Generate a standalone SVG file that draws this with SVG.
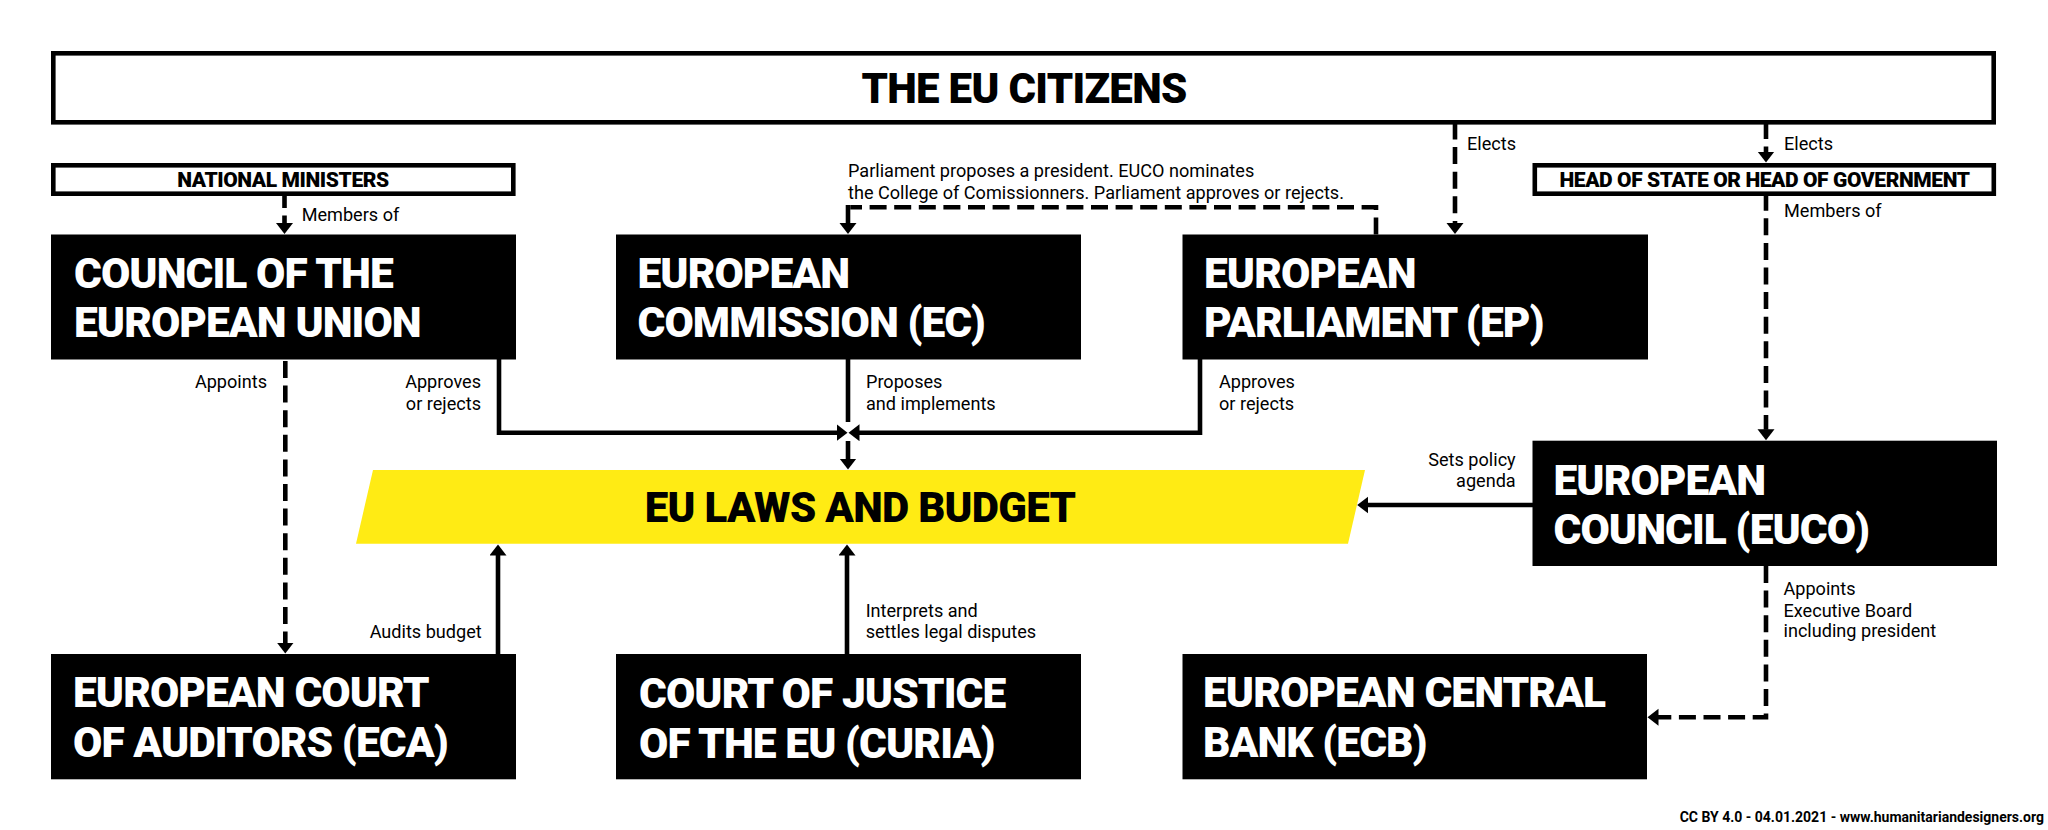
<svg xmlns="http://www.w3.org/2000/svg" width="2048" height="830" viewBox="0 0 2048 830">
<style>
text{font-family:Roboto,"Liberation Sans",sans-serif}
.t{font-size:42.5px;font-weight:900;fill:#fff;letter-spacing:-.95px}
.h{font-size:42px;font-weight:900;fill:#000;letter-spacing:-.7px}
.s{font-size:21px;font-weight:900;fill:#000;text-anchor:middle;letter-spacing:-.4px}
.l{font-size:18.1px;font-weight:400;fill:#000}
.r{text-anchor:end}
.f{font-size:14px;font-weight:700;fill:#000}
.b{fill:#000}
.w{fill:#fff;stroke:#000;stroke-width:4.6}
.c{fill:none;stroke:#000;stroke-width:4.6}
.d{stroke-dasharray:17 7.6}
</style>
<defs>
<marker id="a" markerUnits="userSpaceOnUse" markerWidth="12" markerHeight="18" refX="0.5" refY="8.5" orient="auto"><path d="M0,0L11,8.5L0,17z"/></marker>
</defs>
<rect width="2048" height="830" fill="#fff"/>
<g id="connectors">
<path class="c d" d="M284.5,191V223.5" marker-end="url(#a)"/>
<path class="c d" d="M285.3,361V643" marker-end="url(#a)"/>
<path class="c" d="M498,654V555" marker-end="url(#a)"/>
<path class="c" d="M847,654V555" marker-end="url(#a)"/>
<path class="c" d="M848,359V422"/>
<path class="c" d="M499,359V432.7H837" marker-end="url(#a)"/>
<path class="c" d="M1200,359V432.7H859" marker-end="url(#a)"/>
<path class="c" d="M848,441V459" marker-end="url(#a)"/>
<path class="c d" d="M1376,234.5V207.3H850.3"/>
<path class="c" d="M848,205V223.5" marker-end="url(#a)"/>
<path class="c d" d="M1455,122.5V223.5" marker-end="url(#a)"/>
<path class="c d" d="M1766,122V152" marker-end="url(#a)"/>
<path class="c d" d="M1766,193.7V429.7" marker-end="url(#a)"/>
<path class="c" d="M1533,505H1367.7" marker-end="url(#a)"/>
<path class="c d" d="M1766,566V717.3H1658" marker-end="url(#a)"/>
</g>
<g id="citizens"><rect class="w" x="53.3" y="53.3" width="1940.4" height="69"/><text class="h" x="1024" y="102.7" text-anchor="middle">THE EU CITIZENS</text></g>
<g id="ministers"><rect class="w" x="53.3" y="165.3" width="460" height="28.4"/><text class="s" x="283" y="186.7">NATIONAL MINISTERS</text></g>
<g id="heads"><rect class="w" x="1534.8" y="165.3" width="459" height="28.4"/><text class="s" x="1764.5" y="187">HEAD OF STATE OR HEAD OF GOVERNMENT</text></g>
<g id="council"><rect class="b" x="51" y="234.5" width="465" height="125"/><text class="t" x="74" y="288">COUNCIL OF THE</text><text class="t" x="74" y="337">EUROPEAN UNION</text></g>
<g id="commission"><rect class="b" x="616" y="234.5" width="465" height="125"/><text class="t" x="637.5" y="288">EUROPEAN</text><text class="t" x="637.5" y="337">COMMISSION (EC)</text></g>
<g id="parliament"><rect class="b" x="1182.5" y="234.5" width="465.5" height="125"/><text class="t" x="1204" y="288">EUROPEAN</text><text class="t" x="1204" y="337">PARLIAMENT (EP)</text></g>
<g id="euco"><rect class="b" x="1532.5" y="440.7" width="464.5" height="125.3"/><text class="t" x="1553.5" y="495">EUROPEAN</text><text class="t" x="1553.5" y="543.5">COUNCIL (EUCO)</text></g>
<g id="laws"><path d="M373,470H1365L1348,543.7H356z" fill="#ffeb14"/><text class="h" x="860" y="522" text-anchor="middle">EU LAWS AND BUDGET</text></g>
<g id="eca"><rect class="b" x="51" y="654" width="465" height="125.3"/><text class="t" x="73" y="707">EUROPEAN COURT</text><text class="t" x="73" y="756.7">OF AUDITORS (ECA)</text></g>
<g id="curia"><rect class="b" x="616" y="654" width="465" height="125.3"/><text class="t" x="639" y="708">COURT OF JUSTICE</text><text class="t" x="639" y="757.7">OF THE EU (CURIA)</text></g>
<g id="ecb"><rect class="b" x="1182.5" y="654" width="464.5" height="125.3"/><text class="t" x="1203" y="707">EUROPEAN CENTRAL</text><text class="t" x="1203" y="757">BANK (ECB)</text></g>
<g id="labels">
<text class="l" x="301.7" y="220.7">Members of</text>
<text class="l r" x="267" y="388">Appoints</text>
<text class="l r" x="481" y="388">Approves</text><text class="l r" x="481" y="410">or rejects</text>
<text class="l" x="848" y="177">Parliament proposes a president. EUCO nominates</text>
<text class="l" x="848" y="199">the College of Comissionners. Parliament approves or rejects.</text>
<text class="l" x="866" y="388">Proposes</text><text class="l" x="866" y="410">and implements</text>
<text class="l" x="1219" y="388">Approves</text><text class="l" x="1219" y="410">or rejects</text>
<text class="l" x="1467" y="150">Elects</text>
<text class="l" x="1784" y="150">Elects</text>
<text class="l" x="1784" y="217">Members of</text>
<text class="l r" x="1515.7" y="465.7">Sets policy</text><text class="l r" x="1515.7" y="486.7">agenda</text>
<text class="l" x="1783.5" y="595">Appoints</text><text class="l" x="1783.5" y="616.7">Executive Board</text><text class="l" x="1783.5" y="637">including president</text>
<text class="l r" x="481.7" y="638">Audits budget</text>
<text class="l" x="865.7" y="616.7">Interprets and</text><text class="l" x="865.7" y="638">settles legal disputes</text>
<text class="f" x="2044" y="821.7" text-anchor="end">CC BY 4.0 - 04.01.2021 - www.humanitariandesigners.org</text>
</g>
</svg>
